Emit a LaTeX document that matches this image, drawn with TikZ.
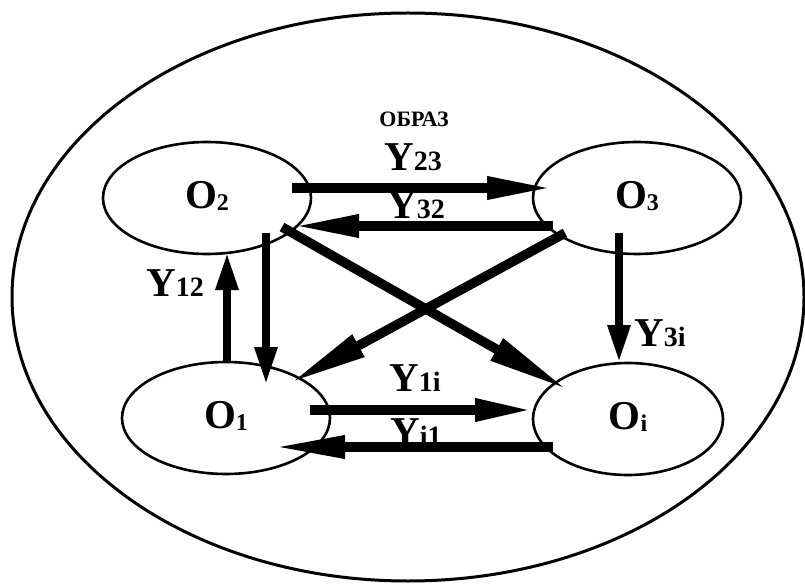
\documentclass[tikz,border=0pt]{standalone}
\usepackage{fontspec}
\setmainfont{Liberation Serif}
\usetikzlibrary{arrows.meta,calc,shapes.geometric}
\tikzset{
  obj/.style={draw, line width=2.6pt, ellipse, minimum width=208pt, minimum height=112pt, inner sep=0pt},
  objnarrow/.style={obj, minimum width=190pt},
  link/.style={line width=9.5pt, -{Triangle[length=66pt,width=21pt]}},
  linkv/.style={line width=8.5pt, -{Triangle[length=38pt,width=21pt]}},
  lbl/.style={inner sep=0pt, font=\bfseries},
}
\newcommand{\bigO}[1]{{\fontsize{41}{41}\selectfont O}\raisebox{-2pt}{\fontsize{24}{24}\selectfont #1}}
\newcommand{\bigY}[1]{{\fontsize{41}{41}\selectfont Y}{\fontsize{28}{28}\selectfont #1}}
\begin{document}
\begin{tikzpicture}[x=1pt,y=-1pt]
\useasboundingbox (0,0) rectangle (805,585);
\clip (0,0) rectangle (805,585);
\fill[white] (0,0) rectangle (805,585);
% outer ellipse
\node[draw, line width=3pt, ellipse, minimum width=792pt, minimum height=568pt, inner sep=0pt] (world) at (408,297) {};
% objects
\node[obj] (O2) at (207,198) {};
\node[obj] (O3) at (637,198) {};
\node[obj] (O1) at (226,418) {};
\node[objnarrow] (Oi) at (628,419) {};
\node[lbl] (t2) at (207,196) {\bigO{2}};
\node[lbl] (t3) at (637,196) {\bigO{3}};
\node[lbl] (t1) at (226,416) {\bigO{1}};
\node[lbl] (ti) at (628,417) {\bigO{i}};
% labels
\node[lbl] (obraz) at (414,119) {\fontsize{22}{22}\selectfont ОБРАЗ};
\node[lbl] (y23) at (413,157) {\bigY{23}};
\node[lbl] (y32) at (416,205) {\bigY{32}};
\node[lbl] (y12) at (175,283) {\bigY{12}};
\node[lbl] (y3i) at (660,333) {\bigY{3i}};
\node[lbl] (y1i) at (415,378) {\bigY{1i}};
\node[lbl] (yi1) at (416,432) {\bigY{i1}};
% connectors
\draw[link] ($(O2)+(85,-10)$) -- ($(O3)+(-84,-10)$);
\draw[link] ($(O3)+(-84,28)$) -- ($(O2)+(86,28)$);
\draw[linkv] ($(O2)+(59,35)$) -- ($(O1)+(40,-33)$);
\draw[linkv] ($(O1)+(1,-56)$) -- ($(O2)+(20,54)$);
\draw[link, -{Triangle[length=82pt,width=23pt]}] ($(O2)+(75,29)$) -- ($(Oi)+(-60,-29)$);
\draw[link, -{Triangle[length=78pt,width=23pt]}] ($(O3)+(-72,35)$) -- ($(O1)+(64,-35)$);
\draw[linkv] ($(O3)+(-18,35)$) -- ($(Oi)+(-9,-56)$);
\draw[link, -{Triangle[length=58pt,width=21pt]}] ($(O1)+(84,-8)$) -- ($(Oi)+(-95,-9)$);
\draw[link, -{Triangle[length=72pt,width=21pt]}] ($(Oi)+(-75,28)$) -- ($(O1)+(47,29)$);
\end{tikzpicture}
\end{document}
